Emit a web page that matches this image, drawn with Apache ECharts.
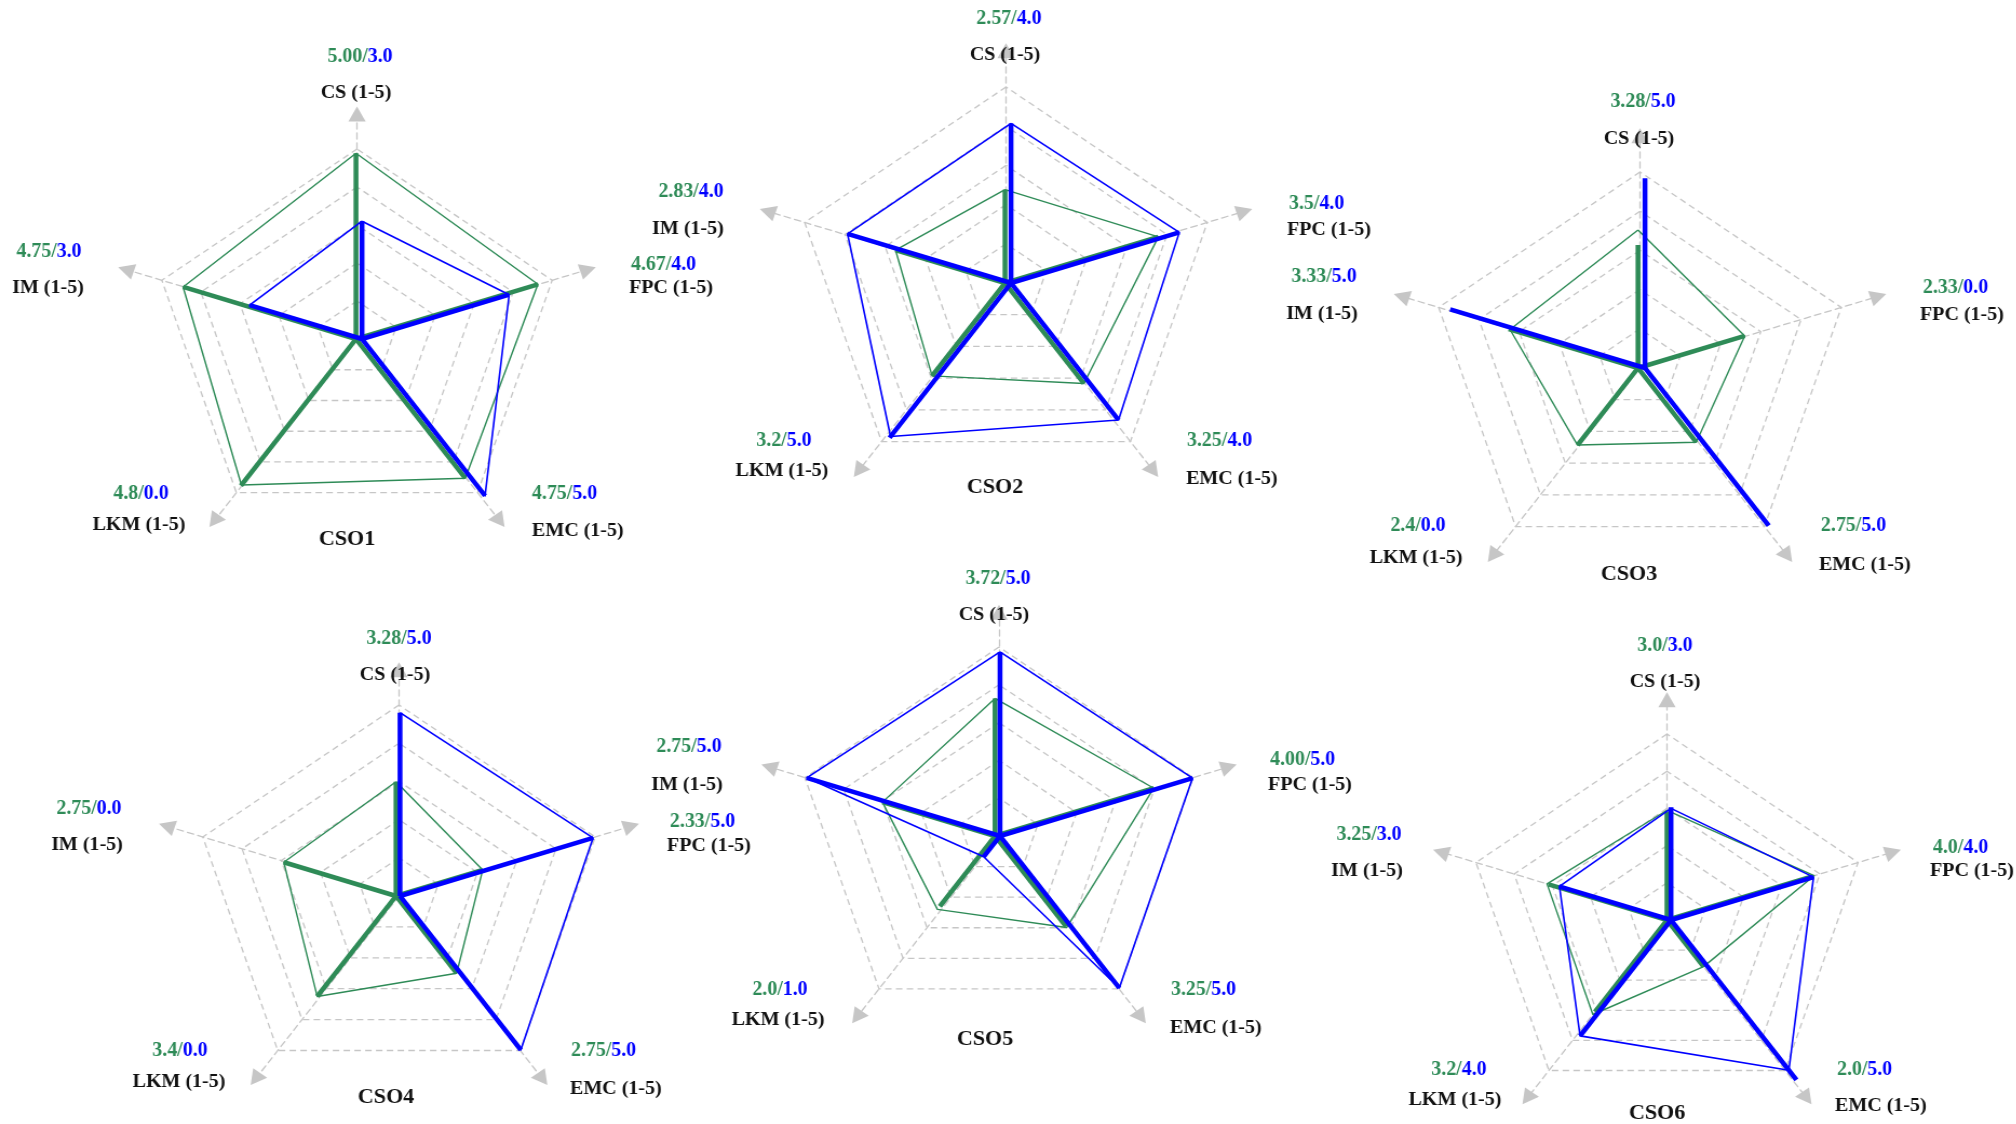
<!DOCTYPE html>
<html>
<head>
<meta charset="utf-8">
<script src="https://cdn.jsdelivr.net/npm/echarts@6/dist/echarts.min.js"></script>
<style>
html, body { margin:0; padding:0; background:#ffffff; overflow:hidden; width:2016px; height:1124px; }
#wrap { width:2016px; height:1124px; overflow:hidden; position:relative; }
#chart { width:1867px; height:1124px; transform:scaleX(1.08); transform-origin:0 0; }
</style>
</head>
<body>
<div id="wrap"><div id="chart"></div></div>
<script>
// ---------------- DATA (axis order: CS, FPC, EMC, LKM, IM — clockwise from top) ----------------
const axisNames = ['CS (1-5)', 'FPC (1-5)', 'EMC (1-5)', 'LKM (1-5)', 'IM (1-5)'];
const csoNames = ['CSO1', 'CSO2', 'CSO3', 'CSO4', 'CSO5', 'CSO6'];

// printed labels  "green/blue"
const greenText1 = ['5.00', '4.67', '4.75', '4.8', '4.75'];
const blueText1  = ['3.0', '4.0', '5.0', '0.0', '3.0'];
const greenText2 = ['2.57', '3.5', '3.25', '3.2', '2.83'];
const blueText2  = ['4.0', '4.0', '4.0', '5.0', '4.0'];
const greenText3 = ['3.28', '2.33', '2.75', '2.4', '3.33'];
const blueText3  = ['5.0', '0.0', '5.0', '0.0', '5.0'];
const greenText4 = ['3.28', '2.33', '2.75', '3.4', '2.75'];
const blueText4  = ['5.0', '5.0', '5.0', '0.0', '0.0'];
const greenText5 = ['3.72', '4.00', '3.25', '2.0', '2.75'];
const blueText5  = ['5.0', '5.0', '5.0', '1.0', '5.0'];
const greenText6 = ['3.0', '4.0', '2.0', '3.2', '3.25'];
const blueText6  = ['3.0', '4.0', '5.0', '4.0', '3.0'];

// drawn values
const greenLine1  = [4.89, 4.66, 4.53, 4.75, 4.43];
const greenSpoke1 = [4.89, 4.66, 4.53, 4.77, 4.43];
const blueLine1   = [3.10, 3.77, 5.10, 0, 2.88];
const blueSpoke1  = [3.10, 3.77, 5.10, 0, 2.88];

const greenLine2  = [2.38, 3.81, 3.17, 2.93, 2.72];
const greenSpoke2 = [2.38, 3.81, 3.17, 2.93, 2.72];
const blueLine2   = [4.07, 4.18, 4.32, 4.84, 4.06];
const blueSpoke2  = [4.07, 4.18, 4.32, 4.88, 4.06];

const greenLine3  = [3.52, 2.65, 2.34, 2.43, 3.18];
const greenSpoke3 = [3.14, 2.65, 2.34, 2.43, 3.21];
const blueLine3   = null; // no outline drawn
const blueSpoke3  = [4.84, 0, 4.97, 0, 4.84];

const greenLine4  = [2.99, 2.21, 2.50, 3.25, 2.86];
const greenSpoke4 = [2.99, 2.21, 2.50, 3.25, 2.86];
const blueLine4   = [4.80, 4.92, 4.98, 0, 0];
const blueSpoke4  = [4.80, 4.92, 4.98, 0, 0];

const greenLine5  = [3.64, 4.09, 2.99, 2.40, 2.90];
const greenSpoke5 = [3.64, 4.09, 2.96, 2.30, 2.90];
const blueLine5   = [4.87, 4.96, 4.97, 0.68, 4.98];
const blueSpoke5  = [4.87, 4.96, 4.97, 0.68, 4.98];

const greenLine6  = [2.95, 3.85, 1.55, 3.14, 3.14];
const greenSpoke6 = [2.90, 3.80, 1.55, 3.05, 3.10];
const blueLine6   = [3.00, 3.73, 4.99, 3.85, 2.92];
const blueSpoke6  = [3.03, 3.73, 5.31, 3.85, 2.93];

const greenTexts = [greenText1, greenText2, greenText3, greenText4, greenText5, greenText6];
const blueTexts  = [blueText1, blueText2, blueText3, blueText4, blueText5, blueText6];
const greenLines = [greenLine1, greenLine2, greenLine3, greenLine4, greenLine5, greenLine6];
const greenSpokes = [greenSpoke1, greenSpoke2, greenSpoke3, greenSpoke4, greenSpoke5, greenSpoke6];
const blueLines = [blueLine1, blueLine2, blueLine3, blueLine4, blueLine5, blueLine6];
const blueSpokes = [blueSpoke1, blueSpoke2, blueSpoke3, blueSpoke4, blueSpoke5, blueSpoke6];

// ---------------- LAYOUT (page pixels) ----------------
const SX = 1.08; // horizontal stretch of the whole figure
const DY = 3;    // small vertical nudge for text
const GREEN = '#2E8B57', BLUE = '#0000FF', GRID = '#c6c6c6';
const FONT = '"Liberation Serif", "Times New Roman", serif';
// grid centre / radius, plus the small horizontal shift of the green and blue traces
const radars = [
  { cx: 357,  cy: 339, R: 190, gdx: -1, bdx: 5 },
  { cx: 1006, cy: 283, R: 196, gdx: -1, bdx: 5 },
  { cx: 1640, cy: 368, R: 196, gdx: -2, bdx: 5 },
  { cx: 399,  cy: 896, R: 191, gdx: -3, bdx: 1 },
  { cx: 999,  cy: 836, R: 189, gdx: -4, bdx: 1 },
  { cx: 1667, cy: 920, R: 186, gdx: 0,  bdx: 4 }
];
// per axis: [valueX, valueY, nameX, nameY, align]  (CS, FPC, EMC, LKM, IM) ; title [x,y]
const labelPos = [
  { ax: [[360,54,356,90,'center'],[631,262,629,285,'left'],[532,491,532,528,'left'],[141,491,139,522,'center'],[49,249,48,285,'center']], title: [347,536] },
  { ax: [[1009,16,1005,52,'center'],[1289,201,1287,227,'left'],[1187,438,1186,476,'left'],[784,438,782,468,'center'],[691,189,688,226,'center']], title: [995,484] },
  { ax: [[1643,99,1639,136,'center'],[1923,285,1920,312,'left'],[1821,523,1819,562,'left'],[1418,523,1416,555,'center'],[1324,274,1322,311,'center']], title: [1629,571] },
  { ax: [[399,636,395,672,'center'],[670,819,667,843,'left'],[571,1048,570,1086,'left'],[180,1048,179,1079,'center'],[89,806,87,842,'center']], title: [386,1094] },
  { ax: [[998,576,994,612,'center'],[1270,757,1268,782,'left'],[1171,987,1170,1025,'left'],[780,987,778,1017,'center'],[689,744,687,782,'center']], title: [985,1036] },
  { ax: [[1665,643,1665,679,'center'],[1933,845,1930,868,'left'],[1837,1067,1835,1103,'left'],[1459,1067,1455,1097,'center'],[1369,832,1367,868,'center']], title: [1657,1110] }
];

// ECharts radar indicators run counter-clockwise: CS, IM, LKM, EMC, FPC
const perm = [0, 4, 3, 2, 1];
const toRadar = v => perm.map(k => v[k]);
const indicators = () => perm.map(k => ({ name: axisNames[k], min: 0, max: 6 }));

const radarComps = [];
radars.forEach(r => {
  // visible grid
  radarComps.push({
    center: [r.cx / SX, r.cy], radius: r.R * 1.2, startAngle: 90, shape: 'polygon', splitNumber: 6,
    indicator: indicators(),
    axisName: { show: false },
    axisLine: {
      show: true,
      lineStyle: { color: GRID, width: 1.3, type: [6, 4] },
      symbol: ['none', 'triangle'], symbolSize: [16, 15], symbolOffset: [0, -3]
    },
    axisTick: { show: false }, axisLabel: { show: false }, splitArea: { show: false },
    splitLine: { show: true,
      lineStyle: { color: [GRID, GRID, GRID, GRID, GRID, GRID, 'rgba(0,0,0,0)'], width: 1.3, type: [6, 4] } }
  });
  // coordinate systems for the green and the blue traces (same scale, shifted origin, no drawing)
  [r.gdx, r.bdx].forEach(dx => {
    radarComps.push({
      center: [(r.cx + dx) / SX, r.cy], radius: r.R * 1.2, startAngle: 90, shape: 'polygon', splitNumber: 6,
      indicator: indicators(),
      axisName: { show: false }, axisLine: { show: false }, axisTick: { show: false },
      axisLabel: { show: false }, splitArea: { show: false }, splitLine: { show: false }
    });
  });
});

const series = [];
function spokeData(v) {
  const out = [];
  v.forEach((val, k) => {
    if (val > 0) out.push({ value: toRadar(v.map((x, j) => (j === k ? x : 0))) });
  });
  return out;
}
radars.forEach((r, i) => {
  const gIdx = i * 3 + 1, bIdx = i * 3 + 2;
  series.push({ type: 'radar', radarIndex: gIdx, symbol: 'none', silent: true, z: 2,
    lineStyle: { color: GREEN, width: 1.4 }, data: [{ value: toRadar(greenLines[i]) }] });
  series.push({ type: 'radar', radarIndex: gIdx, symbol: 'none', silent: true, z: 3,
    lineStyle: { color: GREEN, width: 4.5, join: 'bevel' }, data: spokeData(greenSpokes[i]) });
  if (blueLines[i]) {
    series.push({ type: 'radar', radarIndex: bIdx, symbol: 'none', silent: true, z: 4,
      lineStyle: { color: BLUE, width: 1.6 }, data: [{ value: toRadar(blueLines[i]) }] });
  }
  series.push({ type: 'radar', radarIndex: bIdx, symbol: 'none', silent: true, z: 5,
    lineStyle: { color: BLUE, width: 4.5, join: 'bevel' }, data: spokeData(blueSpokes[i]) });
});

const graphics = [];
labelPos.forEach((lp, i) => {
  lp.ax.forEach((p, k) => {
    graphics.push({
      type: 'text', x: p[0] / SX, y: p[1] + DY, scaleX: 0.92, z: 10, silent: true,
      style: {
        text: '{g|' + greenTexts[i][k] + '/}{b|' + blueTexts[i][k] + '}',
        align: p[4], verticalAlign: 'middle',
        rich: {
          g: { fill: GREEN, fontFamily: FONT, fontWeight: 'bold', fontSize: 20 },
          b: { fill: BLUE, fontFamily: FONT, fontWeight: 'bold', fontSize: 20 }
        }
      }
    });
    graphics.push({
      type: 'text', x: p[2] / SX, y: p[3] + DY, scaleX: 0.95, z: 10, silent: true,
      style: { text: axisNames[k], fill: '#111', fontFamily: FONT, fontWeight: 'bold', fontSize: 19.5,
        align: p[4], verticalAlign: 'middle' }
    });
  });
  graphics.push({
    type: 'text', x: lp.title[0] / SX, y: lp.title[1] + DY, scaleX: 0.95, z: 10, silent: true,
    style: { text: csoNames[i], fill: '#111', fontFamily: FONT, fontWeight: 'bold', fontSize: 21.5,
      align: 'center', verticalAlign: 'middle' }
  });
});

const chart = echarts.init(document.getElementById('chart'), null, { renderer: 'canvas' });
chart.setOption({
  backgroundColor: '#ffffff',
  animation: false,
  radar: radarComps,
  series: series,
  graphic: { elements: graphics }
});
</script>
</body>
</html>
